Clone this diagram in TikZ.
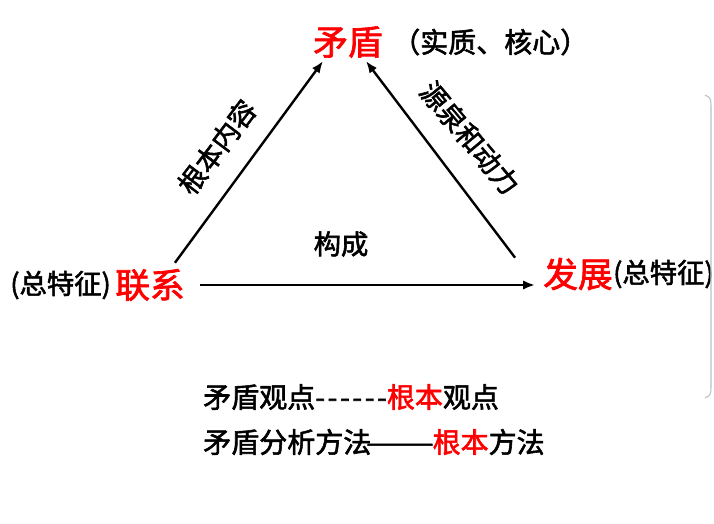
\documentclass[tikz,border=0pt]{standalone}
\usepackage{fontspec}
\setmainfont{Noto Sans CJK SC}[FakeBold=2]
\usetikzlibrary{arrows.meta}
\definecolor{keyred}{RGB}{255,0,0}

\begin{document}
\begin{tikzpicture}[x=0.75pt,y=-0.75pt,
  link/.style={line width=1.8pt,-{Latex[length=9pt,width=7pt]}},
  keyword/.style={keyred,inner sep=0pt,font=\fontsize{26}{30}\selectfont},
  note/.style={inner sep=0pt,font=\fontsize{20.5}{24}\selectfont}]
  \useasboundingbox (0,0) rectangle (714,524);
  \node[keyword] (maodun) at (348,42) {矛盾};
  \node[keyword] (lianxi) at (150,285) {联系};
  \node[keyword] (fazhan) at (578,274) {发展};
  \node[note,font=\fontsize{21}{25}\selectfont,anchor=west] (benzhi) at (392,42) {（实质、核心）};
  \node[note,anchor=east] (tezheng1) at ([xshift=-3pt]lianxi.west) {(总特征)};
  \node[note,anchor=west] (tezheng2) at (fazhan.east) {(总特征)};
  \draw[link] ([xshift=-7.5pt,yshift=4.5pt]lianxi.north east) -- ([xshift=7.5pt,yshift=-2.25pt]maodun.south west);
  \draw[link] ([xshift=-21pt]fazhan.north west) -- ([xshift=-12.75pt,yshift=-2.25pt]maodun.south east);
  \draw[link,shorten <=11pt,shorten >=6pt] (lianxi.east) -- (lianxi.east -| fazhan.west);
  \node[note] (goucheng) at (341,244) {构成};
  \node[note,rotate=53] (neirong) at (217,147) {根本内容};
  \node[note,rotate=-50] (dongli) at (470,138) {源泉和动力};
  \node[note,font=\fontsize{21}{25}\selectfont,anchor=west] (guandian) at (203,397)
    {矛盾观点-\kern2pt-\kern2pt-\kern2pt-\kern2pt-\kern2pt-\textcolor{keyred}{根本}观点};
  \node[note,font=\fontsize{21}{25}\selectfont,anchor=west] (fangfa) at (203,442)
    {矛盾分析方法\kern-4pt\scalebox{1.45}[1]{——}\kern-1pt\textcolor{keyred}{根本}方法};
  \draw[gray!50,line width=0.8pt] (705,95) .. controls (711,98) .. (711,110) -- (711,383) .. controls (711,395) .. (705,398);
\end{tikzpicture}
\end{document}
